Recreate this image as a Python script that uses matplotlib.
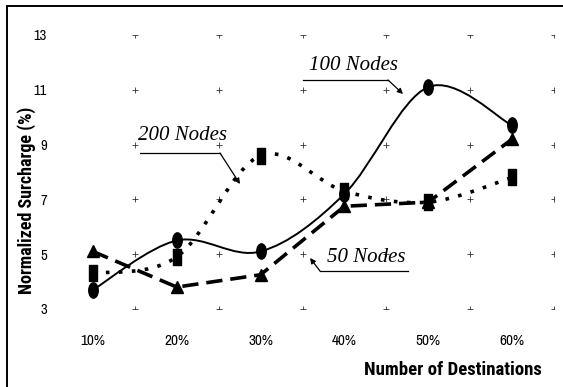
import matplotlib
matplotlib.use("Agg")
import numpy as np
import matplotlib.pyplot as plt
from matplotlib.path import Path
from matplotlib.patches import PathPatch
from matplotlib.lines import Line2D
from matplotlib import font_manager as fm

# ---- data ----
categories = ["10%", "20%", "30%", "40%", "50%", "60%"]
nodes100 = [3.7, 5.5, 5.1, 7.2, 11.1, 9.7]
nodes200 = [4.3, 4.9, 8.6, 7.3, 6.9, 7.8]
nodes50 = [5.1, 3.8, 4.25, 6.75, 6.9, 9.2]
yticks = [3, 5, 7, 9, 11, 13]

entries = fm.fontManager.ttflist
avail = set(f.name for f in entries)
def wnum(w):
    if isinstance(w, int):
        return w
    return {"bold": 700, "heavy": 800, "black": 900, "extra bold": 800, "semibold": 600,
            "demibold": 600, "ultrabold": 800}.get(str(w).lower(), 400)
def pick(cands, bold=False):
    for c in cands:
        if bold:
            if any(f.name == c and wnum(f.weight) >= 700 and f.style == "normal" for f in entries):
                return c
        elif c in avail:
            return c
    return "DejaVu Sans"

narrow = pick(["Liberation Sans Narrow", "Arial Narrow", "Archivo Narrow", "PT Sans Narrow", "Liberation Sans"])
narrow_b = pick(["Liberation Sans Narrow", "Arial Narrow", "Archivo Narrow", "Roboto Condensed",
                 "PT Sans Narrow", "Liberation Sans"], bold=True)
serif = pick(["Liberation Serif", "DejaVu Serif"])

fig = plt.figure(figsize=(5.63, 3.87), dpi=100)
W, H = 563, 387
ax = fig.add_axes([51 / W, 1 - 309 / H, (554 - 51) / W, (309 - 35) / H])
ax.set_xlim(-0.5, 5.5)
ax.set_ylim(3, 13)
for s in ax.spines.values():
    s.set_visible(False)

x = np.arange(len(categories))

def smooth_path(xs, ys):
    pts = np.column_stack([xs, ys]).astype(float)
    n = len(pts)
    verts = [pts[0]]
    codes = [Path.MOVETO]
    for i in range(n - 1):
        p0 = pts[i - 1] if i > 0 else pts[i]
        p1 = pts[i]
        p2 = pts[i + 1]
        p3 = pts[i + 2] if i + 2 < n else pts[i + 1]
        c1 = p1 + (p2 - p0) / 6.0
        c2 = p2 - (p3 - p1) / 6.0
        verts += [c1, c2, p2]
        codes += [Path.CURVE4] * 3
    return Path(verts, codes)

# grid "+" marks
gx, gy = np.meshgrid(np.arange(0.5, 5.6, 1.0), yticks)
ax.plot(gx.ravel(), gy.ravel(), linestyle="none", marker="+", ms=4, mew=0.6, color="#333333", zorder=1)

ax.add_patch(PathPatch(smooth_path(x, nodes100), fill=False, lw=1.4, ec="black", zorder=3))
ax.add_patch(PathPatch(smooth_path(x, nodes200), fill=False, lw=2.6, ec="black",
                       linestyle=(0, (1.0, 2.6)), zorder=3))
ax.plot(x, nodes50, color="black", lw=2.6, linestyle=(0, (4.5, 2.2)), zorder=3)

ell = Path(Path.unit_circle().vertices * np.array([0.62, 1.0]), Path.unit_circle().codes)
rect = Path([(-0.5, -1), (0.5, -1), (0.5, 1), (-0.5, 1), (-0.5, -1)],
            [Path.MOVETO, Path.LINETO, Path.LINETO, Path.LINETO, Path.CLOSEPOLY])
ax.plot(x, nodes100, linestyle="none", marker=ell, ms=11, color="black", zorder=4)
ax.plot(x, nodes200, linestyle="none", marker=rect, ms=12, color="black", zorder=4)
ax.plot(x, nodes50, linestyle="none", marker="^", ms=9, color="black", zorder=4)

ax.set_xticks(x)
ax.set_xticklabels(categories, fontsize=11, family=narrow)
ax.set_yticks(yticks)
ax.set_yticklabels([str(v) for v in yticks], fontsize=10.5, family=narrow)
ax.tick_params(axis="both", length=0)
ax.tick_params(axis="x", pad=18)
ax.tick_params(axis="y", pad=3)

def px2d(px, py):
    return ((px - 93) / 83.8, 3 + (309 - py) / 27.4)

def label(txt, cx, cy, under, tip, corner=None):
    tx, ty = px2d(cx, cy)
    ax.text(tx, ty, txt, fontsize=15, family=serif, style="italic",
            ha="center", va="center", zorder=5)
    (u0, u1, uy) = under
    a0 = px2d(u0, uy)
    a1 = px2d(u1, uy)
    ax.add_line(Line2D([a0[0], a1[0]], [a0[1], a1[1]], color="black", lw=0.9, zorder=5))
    start = corner if corner is not None else (u1, uy)
    s = px2d(*start)
    t = px2d(*tip)
    ax.annotate("", xy=t, xytext=s,
                arrowprops=dict(arrowstyle="-|>", color="black", lw=0.9,
                                mutation_scale=8, shrinkA=0, shrinkB=0), zorder=5)

label("200 Nodes", 183, 136, (140, 220, 153), (240, 184))
label("100 Nodes", 353, 66, (303, 388, 80), (403, 94))
label("50 Nodes", 366, 257, (320, 408, 271), (310, 258), corner=(320, 271))

fig.text(27 / W, 1 - 200 / H, "Normalized Surcharge (%)", rotation=90, ha="center", va="center",
         fontsize=13, fontweight="bold", family=narrow_b)
fig.text(453 / W, 1 - 370 / H, "Number of Destinations", ha="center", va="center",
         fontsize=13.5, fontweight="bold", family=narrow_b)

# outer frame (top and left)
fig.add_artist(Line2D([7 / W, 1], [1 - 6 / H, 1 - 6 / H], transform=fig.transFigure, color="black", lw=1.4))
fig.add_artist(Line2D([7 / W, 7 / W], [0, 1 - 6 / H], transform=fig.transFigure, color="black", lw=1.4))

fig.savefig("out.png", dpi=100)
